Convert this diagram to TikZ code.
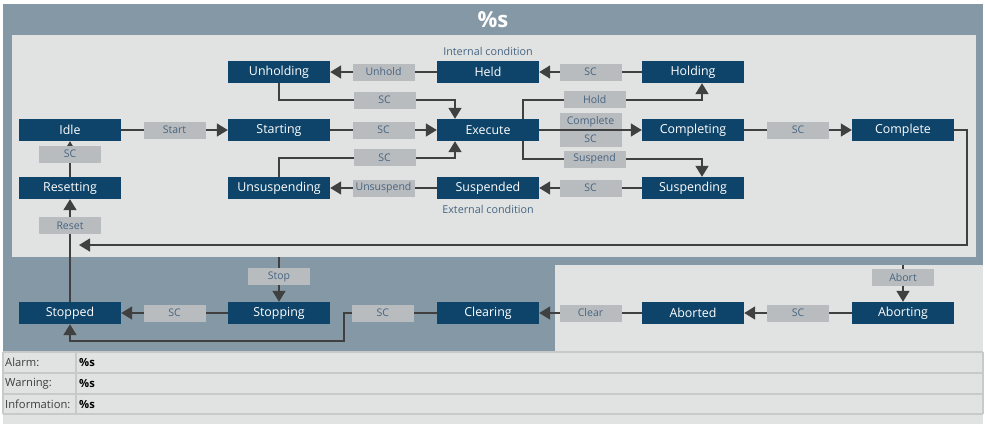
\documentclass[tikz,border=0pt]{standalone}
\usepackage{fontspec}
\setmainfont{Open Sans}
\usepackage{tikz}
\usetikzlibrary{arrows.meta,positioning}
\definecolor{slate}{RGB}{133,152,166}
\definecolor{panel}{RGB}{225,227,227}
\definecolor{statebg}{RGB}{14,68,105}
\definecolor{lblbg}{RGB}{185,188,190}
\definecolor{lbltext}{RGB}{70,100,130}
\definecolor{wirec}{RGB}{64,64,64}
\definecolor{rowline}{RGB}{200,202,202}
\definecolor{tabtext}{RGB}{60,60,60}
\tikzstyle{state} = [rectangle, fill=statebg, text=white, minimum width=102pt, minimum height=22pt, inner sep=0pt, font=\fontsize{12.4}{14}\selectfont]
\tikzstyle{lbl} = [rectangle, fill=lblbg, text=lbltext, minimum width=62pt, minimum height=17pt, inner sep=0pt, font=\fontsize{10.5}{12}\selectfont]
\tikzstyle{line} = [draw=wirec, line width=1.6pt, -{Triangle[width=13pt,length=11pt]}]
\tikzstyle{cond} = [text=lbltext, font=\fontsize{10.8}{12}\selectfont]
\tikzstyle{tabcell} = [anchor=west, inner sep=0pt, text=tabtext, font=\fontsize{11.2}{13}\selectfont]

\begin{document}
\begin{tikzpicture}[x=1pt, y=-1pt, node distance=58pt and 209pt, on grid]
\useasboundingbox (0,0) rectangle (985,424);
\fill[white] (0,0) rectangle (985,424);
\fill[slate] (3,4) rectangle (983,352);
\fill[panel] (12,35) rectangle (976,257);
\fill[panel] (555,265) rectangle (983,352);
\fill[panel] (3,352) rectangle (983,424);
\foreach \y in {352,373,394,414}
  \draw[rowline, line width=1.2pt] (3,\y) -- (983,\y);
\foreach \x in {3,76,983}
  \draw[rowline, line width=1.2pt] (\x,352) -- (\x,414);

\node[text=white, font=\fontsize{22}{25}\selectfont\bfseries] (title) at (493,20) {\%s};

\node[state] (idle) at (70,130) {Idle};
\node[state, right=of idle] (starting) {Starting};
\node[state, right=of starting] (execute) {Execute};
\node[state, right=205pt of execute] (completing) {Completing};
\node[state, right=210pt of completing] (complete) {Complete};
\node[state, above=of starting] (unholding) {Unholding};
\node[state, above=of execute] (held) {Held};
\node[state, above=of completing] (holding) {Holding};
\node[state, below=of starting] (unsuspending) {Unsuspending};
\node[state, below=of execute] (suspended) {Suspended};
\node[state, below=of completing] (suspending) {Suspending};
\node[state, below=of idle] (resetting) {Resetting};
\node[state, below=183pt of idle] (stopped) {Stopped};
\node[state, right=of stopped] (stopping) {Stopping};
\node[state, right=of stopping] (clearing) {Clearing};
\node[state, right=205pt of clearing] (aborted) {Aborted};
\node[state, right=210pt of aborted] (aborting) {Aborting};

\node[cond, above=21pt of held] (intcond) {Internal condition};
\node[cond, below=21pt of suspended] (extcond) {External condition};

\coordinate (join) at (79,245);
\coordinate (stopin) at (279,257);
\coordinate (abortin) at (903,265);

\path[line] (idle) -- node[lbl] {Start} (starting);
\path[line] (starting) -- node[lbl] {SC} (execute);
\path[line] (held) -- node[lbl] {Unhold} (unholding);
\path[line] (holding) -- node[lbl] {SC} (held);
\path[line] (completing) -- node[lbl] {SC} (complete);
\path[line] (suspending) -- node[lbl] {SC} (suspended);
\path[line] (suspended) -- node[lbl] {Unsuspend} (unsuspending);
\path[line] (resetting) -- node[lbl, pos=0.64] {SC} (idle);
\path[line] (stopped) -- node[lbl, pos=0.74] {Reset} (resetting);
\path[line] (unholding.south) -- ++(0,17) -| node[lbl, pos=0.3] {SC} ([xshift=-33pt]execute.north);
\path[line] (unsuspending.north) -- ++(0,-19) -| node[lbl, pos=0.3] {SC} ([xshift=-33pt]execute.south);
\path[line] ([xshift=35pt]execute.north) -- ++(0,-19) -| node[lbl, pos=0.2] {Hold} ([xshift=9pt]holding.south);
\path[line] ([xshift=35pt]execute.south) -- ++(0,18) -| node[lbl, pos=0.2] {Suspend} ([xshift=9pt]suspending.north);
\path (execute) -- node[lbl, yshift=8.5pt] {Complete} node[lbl, yshift=-8.5pt] {SC} (completing);
\path[line] (execute) -- (completing);
\path[line] (complete.east) -- ++(13,0) |- (join);

\path[line] (stopin) -- node[lbl, pos=0.44] {Stop} (stopping);
\path[line] (stopping) -- node[lbl] {SC} (stopped);
\path[line] (clearing.west) -- node[lbl, pos=0.58] {SC} ++(-93,0) -- ++(0,28) -| (stopped.south);
\path[line] (aborted) -- node[lbl] {Clear} (clearing);
\path[line] (aborting) -- node[lbl] {SC} (aborted);
\path[line] (abortin) -- node[lbl, pos=0.34] {Abort} (aborting);

\node[tabcell] (alarm) at (5,362.5) {Alarm:};
\node[tabcell] (warning) at (5,383.5) {Warning:};
\node[tabcell] (info) at (5,404) {Information:};
\node[tabcell, text=black, font=\fontsize{11.2}{13}\selectfont\bfseries] (alarmval) at (79,362.5) {\%s};
\node[tabcell, text=black, font=\fontsize{11.2}{13}\selectfont\bfseries] (warningval) at (79,383.5) {\%s};
\node[tabcell, text=black, font=\fontsize{11.2}{13}\selectfont\bfseries] (infoval) at (79,404) {\%s};
\end{tikzpicture}
\end{document}
